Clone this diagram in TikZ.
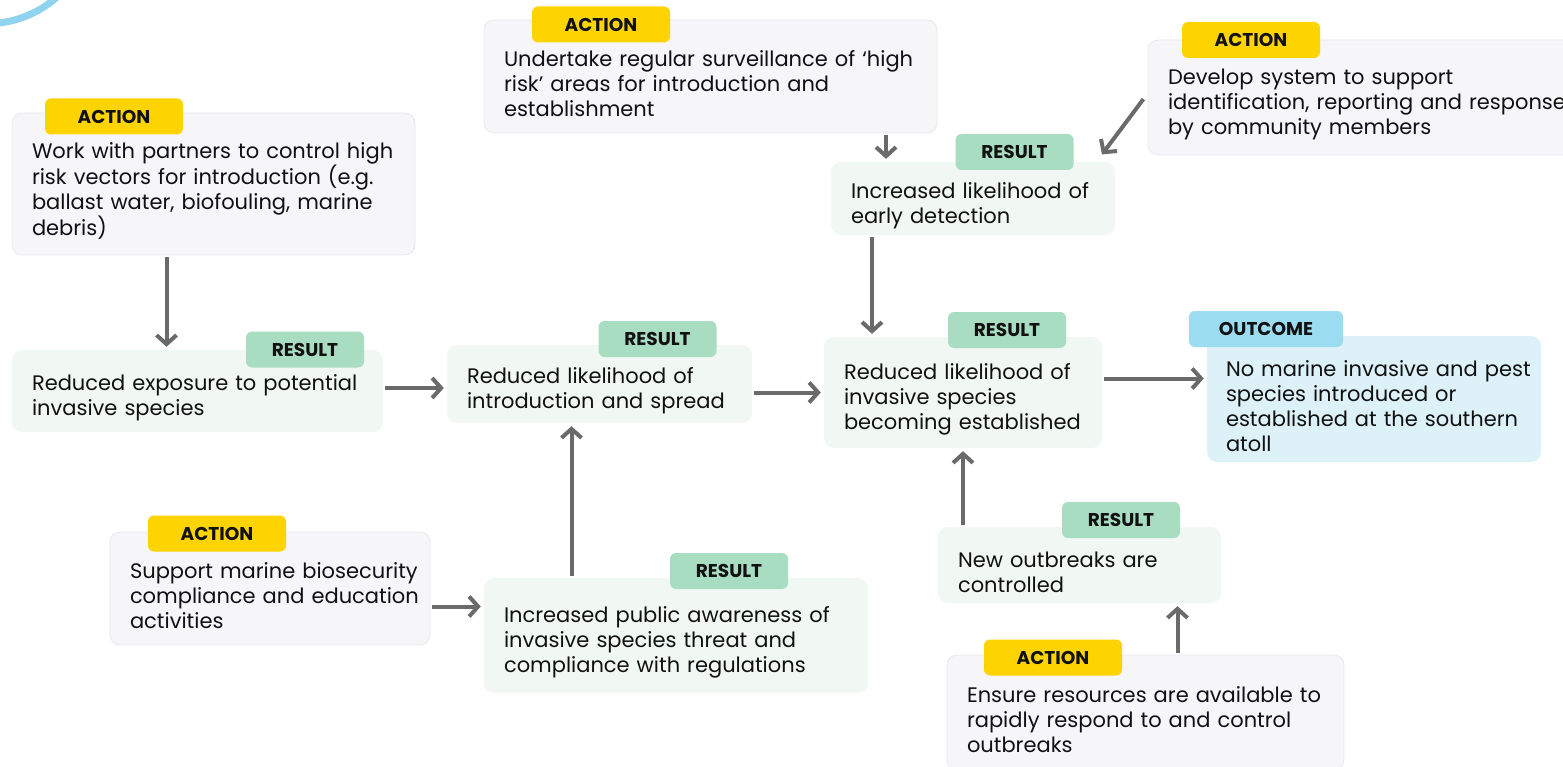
\documentclass[tikz,border=0pt]{standalone}
\usepackage{fontspec}
\setmainfont{Poppins}
\usetikzlibrary{arrows.meta}
\definecolor{actfill}{HTML}{F6F5F8}
\definecolor{actline}{HTML}{E9E8EE}
\definecolor{resfill}{HTML}{F1F8F4}
\definecolor{outfill}{HTML}{DDF1F9}
\definecolor{actyellow}{HTML}{FDD300}
\definecolor{resgreen}{HTML}{A9DDC2}
\definecolor{outblue}{HTML}{9CDCF1}
\definecolor{arrgray}{HTML}{6A6A6A}
\definecolor{arcblue}{HTML}{8FD3EE}
\definecolor{txt}{HTML}{111111}

\begin{document}
\begin{tikzpicture}
[x=1pt,y=-1pt,>={Straight Barb[length=9pt,width=20pt]},
base/.style={rounded corners=10pt, inner xsep=8pt, inner ysep=0pt, align=left,
  font=\fontsize{21}{25}\selectfont, text=txt, text height=30pt,
  execute at begin node={\leftskip=12pt\hyphenpenalty=10000\relax}},
actbox/.style={base, fill=actfill, draw=actline, line width=0.8pt},
resbox/.style={base, fill=resfill},
outbox/.style={base, fill=outfill, inner xsep=4pt,
  execute at begin node={\leftskip=15pt\relax}},
tag/.style={rounded corners=6pt, minimum height=36pt, inner sep=0pt, text=txt,
  font=\bfseries\fontsize{18.5}{20}\selectfont},
acttag/.style={tag, fill=actyellow, minimum width=138pt},
restag/.style={tag, fill=resgreen, minimum width=118pt},
outtag/.style={tag, fill=outblue, minimum width=154pt},
arr/.style={->, draw=arrgray, line width=4pt, shorten <=2pt, shorten >=3pt}]
\useasboundingbox[fill=white] (0,0) rectangle (1563,767);

% corner arc
\draw[arcblue, line width=7pt] (-2,23) .. controls (20,21) and (42,11) .. (58,-4);

% actions (text width = box width - 16)
\node[actbox, text width=387pt, minimum height=142pt] (a1) at (213.5,184)
  {Work with partners to control high\\risk vectors for introduction (e.g.\\ballast water, biofouling, marine\\debris)};
\node[actbox, text width=437pt, minimum height=113pt] (a2) at (710.5,76.5)
  {Undertake regular surveillance of `high\\risk' areas for introduction and\\establishment};
\node[actbox, text width=434pt, minimum height=115pt] (a3) at (1373,97.5)
  {Develop system to support\\identification, reporting and response\\by community members};
\node[actbox, text width=304pt, minimum height=113pt] (a4) at (270,588.5)
  {Support marine biosecurity\\compliance and education\\activities};
\node[actbox, text width=381pt, minimum height=115pt] (a5) at (1145.5,712.5)
  {Ensure resources are available to\\rapidly respond to and control\\outbreaks};

% results
\node[resbox, text width=355pt, minimum height=82pt] (r1) at (197.5,391)
  {Reduced exposure to potential\\invasive species};
\node[resbox, text width=289pt, minimum height=78pt] (r2) at (599.5,384)
  {Reduced likelihood of\\introduction and spread};
\node[resbox, text width=268pt, minimum height=73pt] (r3) at (973,198.5)
  {Increased likelihood of\\early detection};
\node[resbox, text width=262pt, minimum height=111pt] (r4) at (963,392.5)
  {Reduced likelihood of\\invasive species\\becoming established};
\node[resbox, text width=368pt, minimum height=115pt] (r5) at (676,635.5)
  {Increased public awareness of\\invasive species threat and\\compliance with regulations};
\node[resbox, text width=267pt, minimum height=76pt] (r6) at (1079.5,565)
  {New outbreaks are\\controlled};

% outcome
\node[outbox, text width=326pt, minimum height=126pt] (o) at (1374,399)
  {No marine invasive and pest\\species introduced or\\established at the southern\\atoll};

% tags
\node[acttag] (ta1) at (114,116.5) {ACTION};
\node[acttag] (ta2) at (601,24.5) {ACTION};
\node[acttag] (ta3) at (1251,40) {ACTION};
\node[acttag] (ta4) at (217,533.5) {ACTION};
\node[acttag] (ta5) at (1053,657.5) {ACTION};
\node[restag] (tr1) at (305,349.5) {RESULT};
\node[restag] (tr2) at (657.5,339) {RESULT};
\node[restag] (tr3) at (1014.5,152) {RESULT};
\node[restag] (tr4) at (1007,330) {RESULT};
\node[restag] (tr5) at (729,571) {RESULT};
\node[restag] (tr6) at (1121,520) {RESULT};
\node[outtag] (to) at (1266,329) {OUTCOME};

% arrows
\draw[arr] ([xshift=-47pt]a1.south) -- ([xshift=-47pt]a1.south |- r1.north);
\draw[arr] ([yshift=3pt]r1.east) -- ([yshift=3pt]r1.east -| r2.west);
\draw[arr] (r2.east |- r4) -- (r4.west);
\draw[arr] ([xshift=-87pt]r3.north |- a2.south) -- ([xshift=-87pt]r3.north);
\draw[arr] ([xshift=-3pt]a3.west) -- ([xshift=-15pt,yshift=5pt]r3.north east);
\draw[arr] ([xshift=-101pt]r3.south) -- ([xshift=-101pt]r3.south |- r4.north);
\draw[arr] ([yshift=14pt]r4.east) -- ([yshift=14pt]r4.east -| o.west);
\draw[arr] ([xshift=-28pt]r2.south |- r5.north) -- ([xshift=-28pt]r2.south);
\draw[arr] ([yshift=-18pt]a4.east) -- ([yshift=-18pt]a4.east -| r5.west);
\draw[arr] (r4.south |- r6.north) -- (r4.south);
\draw[arr] ([xshift=98pt]r6.south |- a5.north) -- ([xshift=98pt]r6.south);
\end{tikzpicture}
\end{document}
